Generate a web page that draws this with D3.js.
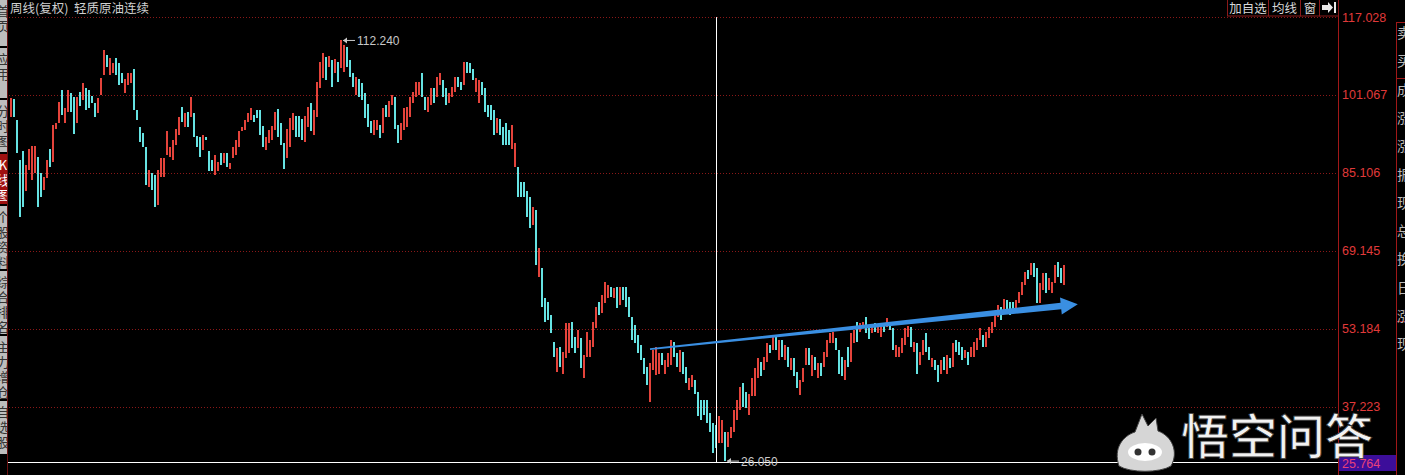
<!DOCTYPE html>
<html><head><meta charset="utf-8">
<script src="https://cdn.jsdelivr.net/npm/d3@7/dist/d3.min.js"></script>
<style>body{margin:0;background:#000;overflow:hidden}svg{display:block}</style>
</head><body>
<svg id="c" width="1405" height="475"></svg>
<script>
// weekly bars: high / low / rising(1) or falling(0)
const high = [100.4,100.2,95.9,87.8,89.5,86.7,90.1,90.6,90.6,88.4,
85.0,84.3,87.8,90.1,94.9,95.3,99.7,102.1,98.3,102.1,
101.5,100.7,100.7,101.7,103.6,102.6,102.1,100.9,99.4,100.4,
104.6,110.3,109.3,108.6,107.7,108.6,107.6,105.5,104.3,105.5,
105.5,106.3,98.0,94.6,93.2,90.5,85.7,85.0,84.7,85.7,
88.1,88.1,93.6,90.5,91.8,94.2,96.6,98.7,97.3,97.6,
100.7,97.3,92.7,92.5,92.9,92.5,89.5,87.8,88.8,87.4,
89.2,89.1,89.1,87.2,90.5,91.8,93.6,94.6,95.9,97.3,
98.3,97.0,98.0,98.0,94.7,92.5,93.9,94.7,97.6,98.1,
95.3,91.2,94.0,96.3,97.3,96.8,96.8,96.1,96.8,98.7,
99.5,98.0,103.8,107.9,109.7,108.9,109.1,108.2,108.4,107.9,
112.24,111.3,110.8,108.2,105.5,104.8,104.3,103.5,101.5,99.2,
95.8,95.9,95.9,94.9,98.3,99.0,99.9,101.1,100.7,94.9,
95.3,98.3,98.7,100.7,101.7,103.8,103.8,105.5,100.7,100.7,
102.4,102.4,104.8,105.5,104.1,102.4,101.4,102.8,104.8,104.8,
103.8,107.9,107.9,107.7,106.3,104.5,104.1,103.8,102.4,99.0,
99.0,98.0,96.3,96.1,94.6,95.3,93.9,94.9,91.2,86.3,
83.3,83.3,81.3,80.2,78.2,77.5,69.7,65.6,59.5,58.7,
56.0,50.5,49.2,49.5,48.5,54.4,54.3,54.6,51.5,52.9,
51.2,47.8,52.6,50.9,54.6,57.7,58.7,60.1,62.8,62.1,
61.8,61.5,61.8,61.8,61.8,61.8,59.7,55.6,53.9,51.9,
49.8,47.1,45.4,46.1,48.8,49.5,48.1,48.1,46.8,48.1,
50.9,50.5,48.1,48.8,48.5,45.4,43.0,43.7,42.7,40.3,
38.6,38.6,38.6,35.9,33.8,33.5,35.2,34.5,32.1,32.1,
33.1,36.5,38.6,41.3,42.0,40.3,39.9,43.0,45.1,47.1,
46.4,47.4,50.2,49.8,51.9,51.9,50.9,50.9,49.8,49.5,
47.1,47.1,44.4,42.7,45.1,49.2,49.2,47.8,47.4,46.1,
46.1,48.5,50.9,52.2,52.6,51.2,48.8,47.4,46.8,49.5,
52.2,52.9,54.6,54.3,54.6,55.5,53.9,53.6,54.3,53.9,
54.3,53.9,55.3,54.6,53.3,49.8,49.5,51.2,53.3,53.7,
53.6,50.5,50.2,48.5,50.9,52.4,49.5,47.1,46.8,45.7,
46.8,47.4,47.8,47.1,50.2,50.9,50.5,49.5,48.8,48.5,
49.5,50.5,51.2,53.3,51.9,52.6,53.5,54.6,56.3,58.0,
57.7,59.2,59.1,58.7,58.7,59.1,60.8,62.8,64.9,65.2,
66.7,66.6,65.6,62.5,64.5,64.5,63.5,62.8,66.2,66.9,
65.6,66.2];
const low = [96.6,96.5,89.1,76.1,78.2,81.3,85.7,83.7,85.0,78.2,
80.2,81.6,84.0,86.4,87.4,94.2,95.3,97.0,95.3,97.6,
97.6,93.0,95.3,98.8,100.0,98.0,98.3,99.4,96.5,97.3,
101.1,105.2,106.9,105.2,105.5,105.2,103.1,103.6,101.4,103.1,
103.5,98.0,95.9,91.5,90.5,82.6,82.3,81.6,78.2,78.5,
84.3,84.3,88.8,88.4,87.8,90.8,92.9,95.6,94.6,94.6,
96.6,92.5,90.5,88.4,89.8,91.8,85.4,85.4,84.7,85.4,
86.7,87.1,86.4,86.0,88.1,88.8,90.5,93.6,93.9,95.6,
95.9,95.6,96.3,92.9,90.5,89.8,91.2,91.8,93.9,92.5,
90.8,86.0,88.1,90.5,93.9,92.5,92.5,91.8,91.5,94.6,
93.6,92.9,96.6,102.4,104.5,104.1,106.9,102.8,105.5,103.8,
106.5,105.8,106.9,104.8,102.8,101.1,100.7,100.0,96.3,94.6,
93.2,92.9,93.9,92.2,93.2,96.6,96.6,99.0,94.2,91.3,
91.8,93.9,94.6,96.6,99.4,100.7,101.1,100.7,97.9,97.6,
99.0,99.4,100.7,103.1,100.7,99.0,99.4,100.7,101.7,102.8,
102.1,103.1,105.5,105.5,104.1,101.7,99.4,101.1,97.6,96.6,
95.9,92.9,93.2,92.9,90.8,90.8,90.8,90.1,86.3,80.2,
80.2,80.1,76.1,73.8,74.4,66.2,63.8,57.7,54.6,55.0,
52.3,47.4,44.4,45.4,44.0,47.1,48.1,49.2,48.1,49.2,
45.1,43.0,47.4,47.4,49.5,53.3,56.0,56.3,58.4,59.4,
59.7,59.4,57.4,58.0,59.1,57.7,55.6,50.9,50.2,48.1,
46.8,44.0,41.6,38.2,44.7,43.7,44.0,45.7,44.0,45.4,
45.7,47.4,45.4,44.4,44.0,42.0,40.6,41.3,39.9,35.2,
34.5,35.5,33.8,32.1,27.7,28.7,29.7,29.7,26.05,29.0,
30.7,32.1,34.5,36.5,37.2,36.9,35.5,39.3,39.3,43.0,
43.4,44.7,46.4,48.1,48.8,48.8,46.8,47.4,46.8,45.4,
44.7,43.4,41.0,39.6,42.3,45.7,45.7,43.4,44.7,43.0,
43.4,45.4,47.4,50.2,50.2,48.8,44.0,43.4,42.7,45.4,
46.4,50.2,50.5,52.6,53.3,52.2,51.0,52.2,52.6,52.2,
51.5,52.6,53.5,52.9,48.8,47.4,47.3,48.1,49.8,51.5,
49.5,48.5,44.0,45.7,47.8,48.5,46.8,45.4,44.7,42.3,
44.0,44.7,44.0,45.1,45.4,48.5,47.8,46.8,47.1,45.7,
47.4,47.4,48.8,50.9,49.5,49.5,51.2,52.2,53.6,55.6,
55.0,56.7,56.3,56.0,57.0,57.4,58.4,60.1,62.1,63.3,
64.2,63.8,58.4,58.4,61.1,60.4,61.1,60.4,62.5,63.8,
62.5,62.1];
const rising = [1,0,0,0,0,1,1,1,1,0, 0,1,1,0,1,1,1,0,1,1, 0,0,1,0,1,0,0,0,0,1,
1,1,0,1,1,0,0,0,1,1, 1,0,0,0,0,0,1,0,0,1, 1,1,1,1,1,1,1,0,1,0,
1,0,0,0,1,0,0,0,1,1, 0,1,0,1,1,1,1,1,1,1, 1,0,0,0,0,1,1,1,1,0,
0,0,1,1,1,0,0,0,1,1, 0,1,1,1,1,0,1,0,1,0, 1,1,0,0,0,1,0,0,0,0,
0,1,1,0,1,0,1,1,0,0, 1,1,1,1,1,1,1,0,0,1, 1,0,1,1,0,0,1,1,1,0,
0,1,0,0,0,1,1,0,0,0, 0,0,1,0,0,0,0,1,1,0, 0,0,0,0,1,0,1,0,0,0,
0,0,1,0,1,1,1,0,0,1, 0,1,1,1,1,1,0,1,1,1, 0,1,0,1,0,0,0,0,0,0,
0,0,0,1,1,1,1,0,1,1, 1,0,0,1,0,0,1,1,0,0, 0,0,0,0,0,0,1,1,0,1,
1,1,1,1,0,0,1,1,1,1, 0,1,1,0,1,0,1,0,1,0, 1,0,0,1,1,1,0,1,0,1,
0,1,1,1,1,0,0,0,1,0, 1,1,0,1,1,0,0,1,0,1, 1,0,1,0,0,1,1,1,1,1,
0,1,0,1,1,0,0,1,0,0, 1,0,1,0,1,0,0,0,1,0, 1,1,1,1,0,1,1,1,1,1,
0,1,0,0,0,1,1,1,1,0, 1,0,0,1,1,0,1,1,1,0, 0,1];

const tickValues = [117.028, 101.067, 85.106, 69.145, 53.184, 37.223];
const priceMin = 25.764, priceMax = 117.028;
const peakIndex = 110, peakText = "112.240";
const troughIndex = 238, troughText = "26.050";
const crossIndex = 235;
const trend = [{i: 213, p: 49.0}, {i: 355.6, p: 58.2}];
const title = "周线(复权)  轻质原油连续";
const buttons = ["加自选", "均线", "窗"];
const sideTabs = ["首页", "应用", "分时图", "K线图", "个股资料", "综合排名", "主力增仓", "自选股"];
const rightLabels = ["卖", "买", "成", "涨", "涨", "振", "现", "总", "换", "日", "涨", "现"];
const watermark = "悟空问答";

const svg = d3.select("#c");
const x = d3.scaleLinear().domain([0, high.length - 1]).range([11, 1064]);
const y = d3.scaleLinear().domain([priceMin, priceMax]).range([462.5, 17.1]);
const plotL = 8, plotR = 1338;
const RED = "#e4433b", CYAN = "#66e3e3", FONT = "'Liberation Sans', Arial, sans-serif", CJK = "'Noto Sans CJK SC', sans-serif";

// grid
svg.append("g").selectAll("line").data(tickValues).join("line")
  .attr("x1", plotL + 1).attr("x2", plotR)
  .attr("y1", d => Math.round(y(d)) + 0.5).attr("y2", d => Math.round(y(d)) + 0.5)
  .attr("stroke", "#8a1818").attr("stroke-dasharray", "1,2");

// candles
const bars = d3.range(high.length);
svg.append("g").attr("shape-rendering", "crispEdges").selectAll("rect").data(bars).join("rect")
  .attr("x", i => x(i) - 1).attr("width", 2)
  .attr("y", i => y(high[i])).attr("height", i => Math.max(1, y(low[i]) - y(high[i])))
  .attr("fill", i => rising[i] ? RED : CYAN);

// crosshair
svg.append("line").attr("x1", x(crossIndex) + 0.5).attr("x2", x(crossIndex) + 0.5)
  .attr("y1", y(priceMax)).attr("y2", y(priceMin)).attr("stroke", "#fff").attr("stroke-width", 1);
svg.append("line").attr("x1", plotL).attr("x2", plotR).attr("y1", y(priceMin)).attr("y2", y(priceMin))
  .attr("stroke", "#fff").attr("stroke-width", 1.2);

// peak / trough labels
function marker(i, p, txt) {
  const g = svg.append("g").attr("transform", `translate(${x(i) + 1},${y(p)})`);
  g.append("line").attr("x1", 1).attr("x2", 13).attr("y1", 0).attr("y2", 0).attr("stroke", "#c8c8c8");
  g.append("path").attr("d", "M1,0 L5,-3 L5,3 Z").attr("fill", "#c8c8c8");
  g.append("text").attr("x", 15).attr("y", 4.5).text(txt).attr("fill", "#c8c8c8")
    .attr("font-family", FONT).attr("font-size", 12);
}
marker(peakIndex, high[peakIndex], peakText);
marker(troughIndex, low[troughIndex], troughText);

// blue trend arrow
(function () {
  const x0 = x(trend[0].i), y0 = y(trend[0].p), x1 = x(trend[1].i), y1 = y(trend[1].p);
  const len = Math.hypot(x1 - x0, y1 - y0), ux = (x1 - x0) / len, uy = (y1 - y0) / len, nx = -uy, ny = ux;
  const hl = 17, hw = 8.5, w0 = 0.8, w1 = 3.2;
  const bx = x1 - ux * hl, by = y1 - uy * hl;
  const pts = [[x0 + nx * w0, y0 + ny * w0], [bx + nx * w1, by + ny * w1], [bx + nx * hw, by + ny * hw], [x1, y1],
    [bx - nx * hw, by - ny * hw], [bx - nx * w1, by - ny * w1], [x0 - nx * w0, y0 - ny * w0]];
  svg.append("path").attr("d", d3.line()(pts) + "Z").attr("fill", "#3a8fe2");
})();

// right axis
const axis = svg.append("g").attr("transform", `translate(${plotR},0)`)
  .call(d3.axisRight(y).tickValues(tickValues).tickFormat(d3.format(".3f")).tickSize(0).tickPadding(4));
axis.select(".domain").remove();
axis.selectAll("text").attr("fill", "#e03a3a").attr("font-family", FONT).attr("font-size", 12.5);
svg.append("line").attr("x1", plotR + 0.5).attr("x2", plotR + 0.5).attr("y1", 0).attr("y2", 475).attr("stroke", "#a01818");

// bottom price box
svg.append("rect").attr("x", plotR + 1).attr("y", y(priceMin) - 7.5).attr("width", 57).attr("height", 16).attr("fill", "#3c0e9a");
svg.append("text").attr("x", plotR + 4).attr("y", y(priceMin) + 5).text(d3.format(".3f")(priceMin))
  .attr("fill", "#e8407a").attr("font-family", FONT).attr("font-size", 12.5);

// right info panel
svg.append("line").attr("x1", 1396.5).attr("x2", 1396.5).attr("y1", 22).attr("y2", 475).attr("stroke", "#a01818");
[22, 78, 231, 321].forEach(v => svg.append("line").attr("x1", 1396).attr("x2", 1405).attr("y1", v + 0.5).attr("y2", v + 0.5).attr("stroke", "#a01818"));
svg.append("g").selectAll("text").data(rightLabels).join("text")
  .attr("x", 1397).attr("y", (d, k) => 38 + k * 28.3).text(d => d)
  .attr("fill", "#b8b8b8").attr("font-family", CJK).attr("font-size", 14);

// top title
svg.append("text").attr("x", 10).attr("y", 13).text(title).attr("fill", "#cfcfcf")
  .attr("font-family", CJK).attr("font-size", 12.5).attr("xml:space", "preserve");

// top buttons
const btnX = [1227, 1268, 1300, 1319, 1338];
buttons.forEach((b, k) => {
  svg.append("rect").attr("x", btnX[k] + 0.5).attr("y", -1).attr("width", btnX[k + 1] - btnX[k]).attr("height", 17)
    .attr("fill", "#000").attr("stroke", "#8a1a1a");
  svg.append("text").attr("x", (btnX[k] + btnX[k + 1]) / 2 + 0.5).attr("y", 12.5).attr("text-anchor", "middle").text(b)
    .attr("fill", "#d8d8d8").attr("font-family", CJK).attr("font-size", 12.5);
});
svg.append("rect").attr("x", btnX[3] + 0.5).attr("y", -1).attr("width", btnX[4] - btnX[3]).attr("height", 17).attr("fill", "#000").attr("stroke", "#8a1a1a");
svg.append("path").attr("d", "M1322,5 L1328,5 L1328,2 L1333,7.5 L1328,13 L1328,10 L1322,10 Z").attr("fill", "#e8e8e8");
svg.append("rect").attr("x", 1334).attr("y", 2).attr("width", 2).attr("height", 11).attr("fill", "#e8e8e8");

// left tabs
const tabY = [0, 48, 100, 154, 206, 271, 336, 401, 456];
const defs = svg.append("defs");
sideTabs.forEach((t, k) => {
  const cid = "tab" + k;
  defs.append("clipPath").attr("id", cid).append("rect").attr("x", 0).attr("y", tabY[k]).attr("width", 7).attr("height", tabY[k + 1] - tabY[k] - 2);
  svg.append("rect").attr("x", 0).attr("y", tabY[k]).attr("width", 7).attr("height", tabY[k + 1] - tabY[k] - 2)
    .attr("fill", k === 3 ? "#a01010" : "#bdbdbd");
  const g = svg.append("g").attr("clip-path", `url(#${cid})`);
  Array.from(t).forEach((ch, j) => g.append("text").attr("x", 3).attr("y", tabY[k] + 16 + j * 15).attr("text-anchor", "middle").text(ch)
    .attr("fill", k === 3 ? "#fff" : "#333").attr("font-family", CJK).attr("font-size", 13));
});
svg.append("line").attr("x1", 7.5).attr("x2", 7.5).attr("y1", 0).attr("y2", 475).attr("stroke", "#6a1010");

// watermark
const wm = svg.append("g");
wm.append("path").attr("d", "M1119,466 C1113,448 1123,436 1135,432 L1142,414 L1148,426 L1156,418 L1158,431 C1172,436 1179,452 1171,466 C1160,473 1130,473 1119,466 Z")
  .attr("fill", "#d6d6d6").attr("stroke", "#444").attr("stroke-width", 1);
wm.append("ellipse").attr("cx", 1145).attr("cy", 452).attr("rx", 17).attr("ry", 9).attr("fill", "#fff");
wm.append("circle").attr("cx", 1138).attr("cy", 452).attr("r", 3.5).attr("fill", "#333");
wm.append("circle").attr("cx", 1152).attr("cy", 452).attr("r", 3.5).attr("fill", "#333");
wm.append("text").attr("x", 1181).attr("y", 454).text(watermark).attr("fill", "#f2f2f2")
  .attr("stroke", "#333").attr("stroke-width", 0.8).attr("font-family", CJK).attr("font-size", 48).attr("font-weight", 500);
</script>
</body></html>
